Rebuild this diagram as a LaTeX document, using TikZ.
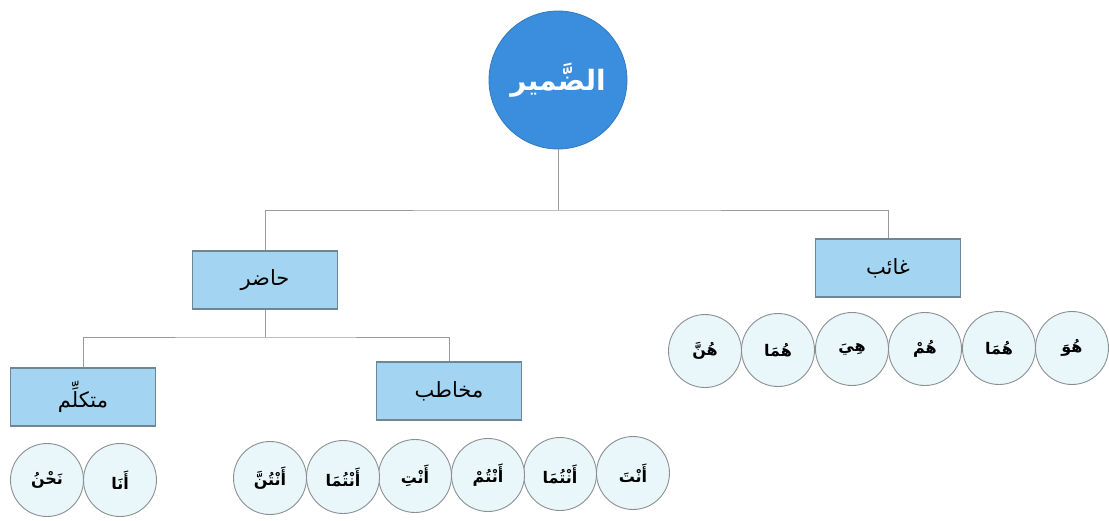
\documentclass[tikz,border=0pt]{standalone}
\usepackage{fontspec}
\newfontfamily\arabicfont[Script=Arabic]{DejaVu Sans}
\TeXXeTstate=1
\definecolor{rootblue}{HTML}{3B8DDD}
\definecolor{boxfill}{HTML}{A3D5F2}
\definecolor{boxborder}{HTML}{6F8794}
\definecolor{circfill}{HTML}{E9F7FA}
\definecolor{circborder}{HTML}{8A8F92}
\definecolor{linegray}{HTML}{9A9A9A}
\begin{document}
\begin{tikzpicture}[x=1pt,y=-1pt,
  conn/.style={draw=linegray, line width=0.8pt},
  catbox/.style={draw=boxborder, fill=boxfill, line width=1.2pt, minimum width=145pt, minimum height=58pt, inner sep=0pt, font=\arabicfont\fontsize{21}{25}\selectfont},
  pron/.style={circle, draw=circborder, fill=circfill, line width=0.9pt, minimum size=73pt, inner sep=0pt, font=\arabicfont\bfseries\fontsize{16}{20}\selectfont},
  rootnode/.style={circle, fill=rootblue, draw=rootblue!85!black, line width=0.8pt, minimum size=138pt, inner sep=0pt, text=white, font=\arabicfont\bfseries\fontsize{28}{32}\selectfont}
]
\useasboundingbox (0,0) rectangle (1109,520);

% root
\node[rootnode] (root) at (558,80) {\beginR الضَّمير\endR};

% categories
\node[catbox] (hadir) at (265,280) {\beginR حاضر\endR};
\node[catbox] (ghaib) at (888,268) {\beginR غائب\endR};
\node[catbox] (mutak) at (83,397) {\beginR متكلِّم\endR};
\node[catbox] (mukh) at (449,391) {\beginR مخاطب\endR};

% junctions
\coordinate (j1) at (558,210);
\coordinate (j2) at (265,337);

\draw[conn] (root) -- (j1);
\draw[conn] (hadir.north) |- (j1) -| (ghaib.north);
\draw[conn] (hadir) -- (j2);
\draw[conn] (mutak.north) |- (j2) -| (mukh.north);

% ghaib pronouns
\node[pron] (g1) at (1072,348) {\beginR هُوَ\endR};
\node[pron] (g2) at (999,348) {\beginR هُمَا\endR};
\node[pron] (g3) at (925,349) {\beginR هُمْ\endR};
\node[pron] (g4) at (852,349) {\beginR هِيَ\endR};
\node[pron] (g5) at (778,350) {\beginR هُمَا\endR};
\node[pron] (g6) at (705,351) {\beginR هُنَّ\endR};

% mukhatab pronouns
\node[pron] (m1) at (633,473) {\beginR أَنْتَ\endR};
\node[pron] (m2) at (560,474) {\beginR أَنْتُمَا\endR};
\node[pron] (m3) at (488,475) {\beginR أَنْتُمْ\endR};
\node[pron] (m4) at (415,476) {\beginR أَنْتِ\endR};
\node[pron] (m5) at (343,477) {\beginR أَنْتُمَا\endR};
\node[pron] (m6) at (270,478) {\beginR أَنْتُنَّ\endR};

% mutakallim pronouns
\node[pron] (k1) at (120,480) {\beginR أَنَا\endR};
\node[pron] (k2) at (47,480) {\beginR نَحْنُ\endR};
\end{tikzpicture}
\end{document}
